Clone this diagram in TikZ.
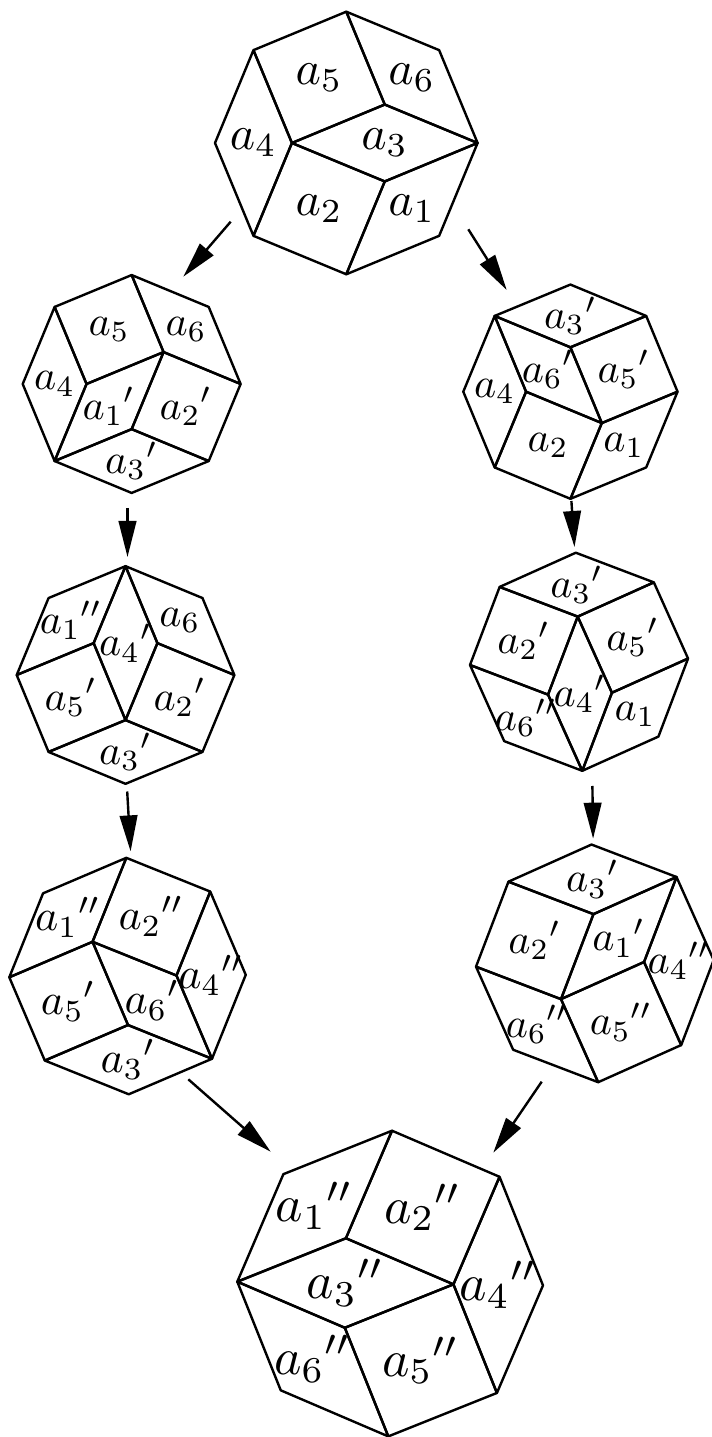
\documentclass[tikz,border=0pt]{standalone}
\usetikzlibrary{arrows.meta}
\tikzset{x=0.25pt,y=0.25pt,
    tile/.style={line width=0.6pt,line join=round},
    flip/.style={line width=0.6pt,-{Triangle[length=9pt,width=4.4pt]}},
    }
% edge directions of the octagon
\def\dA{67.5}
\def\dB{22.5}
\def\dC{-22.5}
\def\dD{-67.5}
% \rh{name}{start}{u}{v}{label}
\newcommand{\rh}[5]{%
	\draw[tile] (0,0) #2 -- ++(#3:1) -- ++(#4:1) -- ++(#3+180:1) -- cycle;
	\path (0,0) #2 ++(#3:.5) ++(#4:.5) node (#1) {$#5$};}

\begin{document}
\begin{tikzpicture}
	\useasboundingbox (0,0) rectangle (712,1437);
	% top
	\begin{scope}[shift={(215,1294)},scale=100.5,every node/.style={scale=1.2}]
		\rh{t4}{}{\dA}{\dD}{a_4}
		\rh{t5}{++(\dA:1)}{\dB}{\dD}{a_5}
		\rh{t6}{++(\dA:1) ++(\dB:1)}{\dC}{\dD}{a_6}
		\rh{t3}{++(\dA:1) ++(\dD:1)}{\dB}{\dC}{a_3}
		\rh{t2}{++(\dD:1)}{\dA}{\dC}{a_2}
		\rh{t1}{++(\dD:1) ++(\dC:1)}{\dA}{\dB}{a_1}
	\end{scope}%top
	% left column
	\begin{scope}[shift={(22.7,1053)},scale=83.4,every node/.style={scale=1.05}]
		\rh{la4}{}{\dA}{\dD}{a_4}
		\rh{la5}{++(\dA:1)}{\dB}{\dD}{a_5}
		\rh{la6}{++(\dA:1) ++(\dB:1)}{\dC}{\dD}{a_6}
		\rh{la1}{++(\dD:1)}{\dA}{\dB}{{a_1}'}
		\rh{la2}{++(\dD:1) ++(\dB:1)}{\dA}{\dC}{{a_2}'}
		\rh{la3}{++(\dD:1)}{\dB}{\dC}{{a_3}'}
	\end{scope}%la
	\begin{scope}[shift={(16.7,762)},scale=83.3,every node/.style={scale=1.05}]
		\rh{lb1}{}{\dA}{\dB}{{a_1}''}
		\rh{lb4}{++(\dB:1)}{\dA}{\dD}{{a_4}'}
		\rh{lb6}{++(\dA:1) ++(\dB:1)}{\dC}{\dD}{a_6}
		\rh{lb5}{}{\dB}{\dD}{{a_5}'}
		\rh{lb2}{++(\dB:1) ++(\dD:1)}{\dA}{\dC}{{a_2}'}
		\rh{lb3}{++(\dD:1)}{\dB}{\dC}{{a_3}'}
	\end{scope}%lb
	\begin{scope}[shift={(9.3,459.7)},rotate=0.6,scale=90.5,every node/.style={scale=1.1}]
		\rh{lc1}{}{\dA}{\dB}{{a_1}''}
		\rh{lc2}{++(\dB:1)}{\dA}{\dC}{{a_2}''}
		\rh{lc4}{++(\dB:1) ++(\dC:1)}{\dA}{\dD}{{a_4}''}
		\rh{lc5}{}{\dB}{\dD}{{a_5}'}
		\rh{lc6}{++(\dB:1)}{\dC}{\dD}{{a_6}'}
		\rh{lc3}{++(\dD:1)}{\dB}{\dC}{{a_3}'}
	\end{scope}%lc
	% right column
	\begin{scope}[shift={(463.3,1045.3)},scale=82,every node/.style={scale=1.05}]
		\rh{ra4}{}{\dA}{\dD}{a_4}
		\rh{ra2}{++(\dD:1)}{\dA}{\dC}{a_2}
		\rh{ra1}{++(\dD:1) ++(\dC:1)}{\dA}{\dB}{a_1}
		\rh{ra3}{++(\dA:1)}{\dB}{\dC}{{a_3}'}
		\rh{ra6}{++(\dA:1)}{\dC}{\dD}{{a_6}'}
		\rh{ra5}{++(\dA:1) ++(\dC:1)}{\dB}{\dD}{{a_5}'}
	\end{scope}%ra
	\begin{scope}[shift={(470,772)},rotate=1.7,scale=83.5,every node/.style={scale=1.05}]
		\rh{rb3}{++(\dA:1)}{\dB}{\dC}{{a_3}'}
		\rh{rb5}{++(\dA:1) ++(\dC:1)}{\dB}{\dD}{{a_5}'}
		\rh{rb2}{}{\dA}{\dC}{{a_2}'}
		\rh{rb4}{++(\dC:1)}{\dA}{\dD}{{a_4}'}
		\rh{rb6}{}{\dC}{\dD}{{a_6}''}
		\rh{rb1}{++(\dD:1) ++(\dC:1)}{\dA}{\dB}{a_1}
	\end{scope}%rb
	\begin{scope}[shift={(476,470.3)},rotate=1.6,scale=91,every node/.style={scale=1.05}]
		\rh{rc3}{++(\dA:1)}{\dB}{\dC}{{a_3}'}
		\rh{rc2}{}{\dA}{\dC}{{a_2}'}
		\rh{rc1}{++(\dC:1)}{\dA}{\dB}{{a_1}'}
		\rh{rc4}{++(\dC:1) ++(\dB:1)}{\dA}{\dD}{{a_4}''}
		\rh{rc5}{++(\dC:1)}{\dB}{\dD}{{a_5}''}
		\rh{rc6}{}{\dC}{\dD}{{a_6}''}
	\end{scope}%rc
	% bottom
	\begin{scope}[shift={(237.3,155.3)},rotate=-0.7,scale=117,every node/.style={scale=1.3}]
		\rh{b1}{}{\dA}{\dB}{{a_1}''}
		\rh{b2}{++(\dB:1)}{\dA}{\dC}{{a_2}''}
		\rh{b4}{++(\dB:1) ++(\dC:1)}{\dA}{\dD}{{a_4}''}
		\rh{b3}{}{\dB}{\dC}{{a_3}''}
		\rh{b6}{}{\dC}{\dD}{{a_6}''}
		\rh{b5}{++(\dC:1)}{\dB}{\dD}{{a_5}''}
	\end{scope}%b
	% arrows
	\coordinate (t-l) at (230.7,1215.3);
	\coordinate (la-in) at (183.3,1160.3);
	\coordinate (t-r) at (468.3,1207.7);
	\coordinate (ra-in) at (506.7,1147);
	\coordinate (la-out) at (127.5,929);
	\coordinate (lb-in) at (127.5,880);
	\coordinate (ra-out) at (571.4,936);
	\coordinate (rb-in) at (574.5,890);
	\coordinate (lb-out) at (127.2,645.5);
	\coordinate (lc-in) at (130.6,585.6);
	\coordinate (rb-out) at (592.4,651);
	\coordinate (rc-in) at (593.1,598.3);
	\coordinate (lc-out) at (188.3,357.7);
	\coordinate (b-l) at (270.7,285.3);
	\coordinate (rc-out) at (541.7,355.3);
	\coordinate (b-r) at (493.3,284.3);
	\draw[flip] (t-l) -- (la-in);
	\draw[flip] (t-r) -- (ra-in);
	\draw[flip] (la-out) -- (lb-in);
	\draw[flip] (ra-out) -- (rb-in);
	\draw[flip] (lb-out) -- (lc-in);
	\draw[flip] (rb-out) -- (rc-in);
	\draw[flip] (lc-out) -- (b-l);
	\draw[flip] (rc-out) -- (b-r);
\end{tikzpicture}
\end{document}
